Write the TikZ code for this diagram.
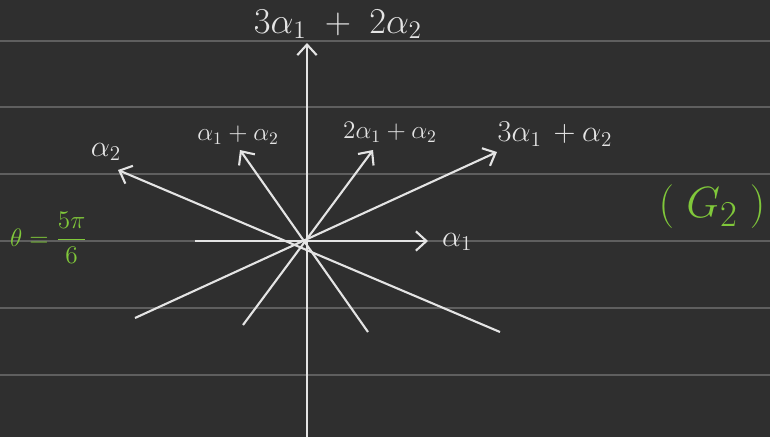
\documentclass[tikz,border=0pt]{standalone}
\usetikzlibrary{arrows.meta, calc}
\usepackage{xcolor}
\definecolor{fundo}{RGB}{47, 47, 47}
\definecolor{pauta}{RGB}{95, 95, 95}
\definecolor{giz}{RGB}{228, 228, 228}
\definecolor{verde}{RGB}{128, 200, 58}

\begin{document}
\begin{tikzpicture}[
    x=0.02cm, y=-0.02cm,
    raiz/.style={draw=giz, line width=1.2pt},
    ponta/.style={-{Straight Barb[length=6pt, width=11pt, line width=1.2pt]}},
    rotulo/.style={text=giz, font=\Large, inner sep=1pt}
]

% ------------------------------------------------
% Fundo e pauta
% ------------------------------------------------

\fill[fundo] (0,0) rectangle (770,437);
\useasboundingbox (0,0) rectangle (770,437);

\foreach \yy in {41, 107, 174, 241, 308, 375} {
    \draw[pauta, line width=1.1pt] (0,\yy) -- (770,\yy);
}

% ------------------------------------------------
% Pontos das raizes
% ------------------------------------------------

\coordinate (origem) at (306,241);
\coordinate (baixo) at (307,437);
\coordinate (cima) at (307,43);
\coordinate (esq) at (195,241);
\coordinate (a1) at (428,241);
\coordinate (a2) at (118,170);
\coordinate (ma2) at (500,332);
\coordinate (a1a2) at (240,150);
\coordinate (ma1a2) at (368,332);
\coordinate (a12a2) at (373,150);
\coordinate (ma12a2) at (243,325);
\coordinate (a13a2) at (497,152);
\coordinate (ma13a2) at (135,318);

% ------------------------------------------------
% Raizes
% ------------------------------------------------

\draw[raiz, ponta] (baixo) -- (cima);
\draw[raiz, ponta] (esq) -- (a1);
\draw[raiz, ponta] (ma2) -- (a2);
\draw[raiz, ponta] (ma1a2) -- (a1a2);
\draw[raiz, ponta] (ma12a2) -- (a12a2);
\draw[raiz, ponta] (ma13a2) -- (a13a2);

% ------------------------------------------------
% Rotulos
% ------------------------------------------------

\node[
    rotulo,
    font=\huge
] (t32) at (338,24)
{$3\alpha_1 \;+\; 2\alpha_2$};

\node[
    rotulo,
    font=\LARGE
] (t2) at (106,152)
{$\alpha_2$};

\node[
    rotulo
] (t11) at (238,135)
{$\alpha_1+\alpha_2$};

\node[
    rotulo
] (t21) at (390,132)
{$2\alpha_1+\alpha_2$};

\node[
    rotulo,
    font=\LARGE
] (t31) at (555,134)
{$3\alpha_1\,+\alpha_2$};

\node[
    rotulo,
    font=\LARGE,
    anchor=west
] (t1) at (440,242)
{$\alpha_1$};

\node[
    text=verde,
    font=\Large,
    anchor=west
] (angulo) at (4,238)
{$\theta = \displaystyle\frac{5\pi}{6}$};

\node[
    text=verde,
    font=\Huge
] (grupo) at (712,207)
{$(\;G_2\;)$};

\end{tikzpicture}
\end{document}
